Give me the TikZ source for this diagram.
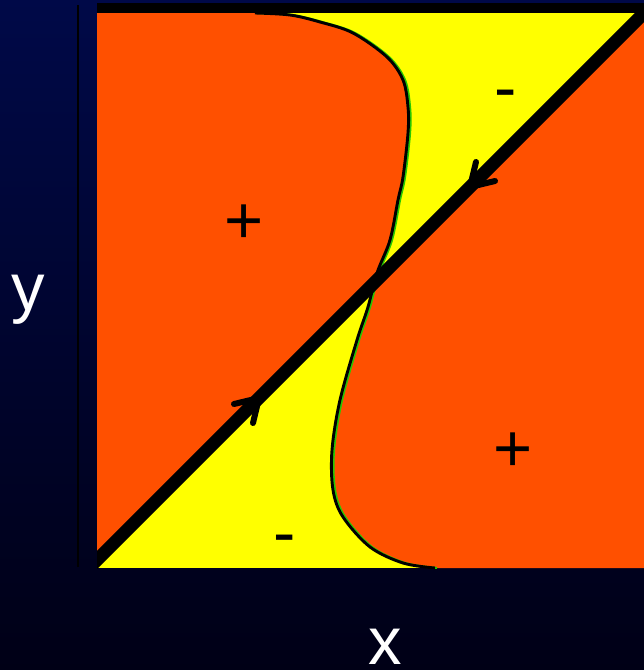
\documentclass[tikz,border=0pt]{standalone}
\usepackage{fontspec}
\setmainfont{Liberation Sans}
\usetikzlibrary{calc}
\definecolor{bgtop}{RGB}{0,9,72}
\definecolor{bgbot}{RGB}{0,0,22}
\definecolor{org}{RGB}{255,80,0}
\definecolor{yel}{RGB}{255,255,0}
\definecolor{grn}{RGB}{40,200,0}
\begin{document}
\begin{tikzpicture}[x=1pt,y=-1pt,
  lbl/.style={text=white,font=\fontsize{67}{67}\selectfont,inner sep=0pt},
  sgn/.style={text=black,font=\fontsize{67}{67}\selectfont,inner sep=0pt,anchor=base},
  barb/.style={line width=6pt,line cap=round},
  diag/.style={line width=13pt},
  sm/.style={smooth,tension=0.55}]
\useasboundingbox (0,0) rectangle (644,670);
\shade[top color=bgtop,bottom color=bgbot] (0,0) rectangle (644,670);
% thin vertical line
\draw[black,line width=1.2pt] (78,5) -- (78,567);
% plot area
\fill[yel] (97,13) rectangle (644,568);
\begin{scope}
  \clip (97,13) -- (650,13) -- (97,566) -- cycle;
  \fill[org] (97,13) -- plot[sm] coordinates {(255,13) (290,15) (320,22) (353,33) (387,57) (403,80) (408,107) (408,133) (403,177) (398,200) (390,240) (377,273) (368,307) (357,340) (340,400) (332,450) (333,490) (343,517) (370,547) (403,563) (435,568)} -- (97,568) -- cycle;
\end{scope}
\begin{scope}
  \clip (644,7) -- (644,568) -- (91,568) -- cycle;
  \fill[org] (644,13) -- plot[sm] coordinates {(255,13) (290,15) (320,22) (353,33) (387,57) (403,80) (408,107) (408,133) (403,177) (398,200) (390,240) (377,273) (368,307) (357,340) (340,400) (332,450) (333,490) (343,517) (370,547) (403,563) (435,568)} -- (644,568) -- cycle;
\end{scope}
% curve with green edge
\begin{scope}
  \clip (97,13) rectangle (644,568);
  \begin{scope}[xshift=2pt]
    \draw[grn,line width=2.2pt] plot[sm] coordinates {(255,13) (290,15) (320,22) (353,33) (387,57) (403,80) (408,107) (408,133) (403,177) (398,200) (390,240) (377,273) (368,307) (357,340) (340,400) (332,450) (333,490) (343,517) (370,547) (403,563) (435,568)};
  \end{scope}
  \draw[black,line width=2.9pt] plot[sm] coordinates {(255,13) (290,15) (320,22) (353,33) (387,57) (403,80) (408,107) (408,133) (403,177) (398,200) (390,240) (377,273) (368,307) (357,340) (340,400) (332,450) (333,490) (343,517) (370,547) (403,563) (435,568)};
  % diagonal
  \coordinate (d1) at (80,577);
  \coordinate (d2) at (660,-3);
  \draw[diag] (d1) -- (d2);
\end{scope}
% top bar
\fill[black] (97,3) rectangle (644,13);
% arrows on diagonal
\coordinate (t1) at (259,398);
\draw[barb] ($(t1)+(-25,6)$) .. controls ($(t1)+(-12,3)$) .. (t1);
\draw[barb] ($(t1)+(-6,25)$) .. controls ($(t1)+(-3,12)$) .. (t1);
\coordinate (t2) at (470,187);
\draw[barb] ($(t2)+(25,-6)$) .. controls ($(t2)+(12,-3)$) .. (t2);
\draw[barb] ($(t2)+(6,-25)$) .. controls ($(t2)+(3,-12)$) .. (t2);
% labels
\node[lbl,anchor=base west] (ylab) at (11,310) {y};
\node[lbl,anchor=base] (xlab) at (385.5,664) {x};
\node[sgn] (p1) at (244.5,243) {+};
\node[sgn] (p2) at (513,471) {+};
\node[sgn] (m1) at (505.5,110) {-};
\node[sgn] (m2) at (284.5,555) {-};
\end{tikzpicture}
\end{document}
